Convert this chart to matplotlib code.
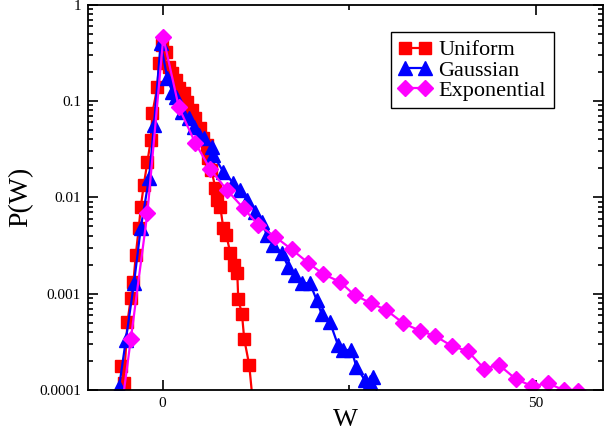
import numpy as np
import matplotlib
matplotlib.use("Agg")
import matplotlib.pyplot as plt
from matplotlib.ticker import FixedLocator, FixedFormatter, LogLocator, NullFormatter

plt.rcParams['font.family'] = 'Liberation Serif'

# Uniform (red squares)
uni_w = [-5.57, -5.2, -4.71, -4.27, -3.91, -3.6, -3.2, -2.93, -2.53, -2.04, -1.6, -1.37,
         -0.71, -0.49, -0.04, 0.4, 0.84, 1.29, 1.73, 2.13, 2.8, 3.29, 3.96, 4.4, 5.07,
         5.47, 5.96, 6.13, 6.53, 7.07, 7.33, 7.73, 8.13, 8.53, 9.07, 9.6, 10.0, 10.13,
         10.63, 10.93, 11.6, 12.2]
uni_p = [1.77e-4, 1.18e-4, 5.07e-4, 9.0e-4, 1.33e-3, 2.52e-3, 4.8e-3, 7.9e-3, 0.0134,
         0.0234, 0.039, 0.075, 0.141, 0.248, 0.38, 0.323, 0.227, 0.194, 0.165, 0.136,
         0.121, 0.0984, 0.0807, 0.0666, 0.0525, 0.0413, 0.0349, 0.0256, 0.0192, 0.0125,
         9.4e-3, 7.9e-3, 4.8e-3, 4.05e-3, 2.64e-3, 1.98e-3, 1.64e-3, 8.8e-4, 6.14e-4,
         3.38e-4, 1.82e-4, 6e-5]

# Gaussian (blue triangles)
gau_w = [-5.83, -4.93, -3.83, -2.93, -1.83, -1.16, -0.27, 0.63, 1.29, 1.73, 2.63, 3.51,
         4.17, 4.84, 5.51, 6.63, 6.8, 8.13, 9.47, 10.4, 11.29, 12.4, 13.29, 13.96, 14.84,
         15.96, 16.84, 17.73, 18.63, 19.73, 20.63, 21.29, 22.4, 23.5, 24.17, 25.3, 25.96,
         27.07, 27.73, 28.17, 28.63]
gau_p = [1.08e-4, 3.3e-4, 1.3e-3, 4.8e-3, 0.0157, 0.0563, 0.397, 0.172, 0.125, 0.111,
         0.0774, 0.066, 0.054, 0.0443, 0.041, 0.0335, 0.0275, 0.0184, 0.0141, 0.0119,
         9.4e-3, 7.1e-3, 5.58e-3, 4.06e-3, 3.2e-3, 2.64e-3, 1.9e-3, 1.56e-3, 1.28e-3,
         1.29e-3, 8.6e-4, 6.2e-4, 5.1e-4, 2.92e-4, 2.6e-4, 2.6e-4, 1.74e-4, 1.27e-4,
         1.22e-4, 1.37e-4, 8.5e-5]

# Exponential (magenta diamonds)
exp_w = [-6.4, -4.27, -2.04, 0.09, 2.17, 4.4, 6.4, 8.62, 10.84, 12.84, 15.07, 17.29,
         19.51, 21.5, 23.73, 25.73, 27.96, 29.96, 32.27, 34.49, 36.53, 38.76, 40.89,
         43.07, 45.07, 47.37, 49.5, 51.64, 53.73, 55.6]
exp_p = [1.9e-5, 3.35e-4, 6.9e-3, 0.458, 0.086, 0.0364, 0.0195, 0.0119, 7.69e-3,
         5.16e-3, 3.9e-3, 2.88e-3, 2.09e-3, 1.6e-3, 1.33e-3, 9.66e-4, 7.93e-4, 6.76e-4,
         4.92e-4, 4.12e-4, 3.63e-4, 2.86e-4, 2.53e-4, 1.67e-4, 1.82e-4, 1.29e-4, 1.1e-4,
         1.17e-4, 1.0e-4, 9.7e-5]

yticks = [1e-4, 1e-3, 1e-2, 1e-1, 1]
ylabels = ["0.0001", "0.001", "0.01", "0.1", "1"]
xticks = [0, 50]
xlabels = ["0", "50"]

fig = plt.figure(figsize=(6.08, 4.33), dpi=100)
ax = fig.add_axes([88 / 608, 1 - 390 / 433, 515 / 608, 385.3 / 433])

ax.plot(uni_w, uni_p, '-s', color='#ff0000', lw=1.6, ms=8, label='Uniform')
ax.plot(gau_w, gau_p, '-^', color='#0000ff', lw=1.6, ms=9.5, label='Gaussian')
ax.plot(exp_w, exp_p, '-D', color='#ff00ff', lw=1.6, ms=8, label='Exponential')

ax.set_yscale('log')
ax.set_xlim(-10, 59)
ax.set_ylim(1e-4, 1)

ax.yaxis.set_major_locator(FixedLocator(yticks))
ax.yaxis.set_major_formatter(FixedFormatter(ylabels))
ax.yaxis.set_minor_locator(LogLocator(base=10, subs=np.arange(2, 10)))
ax.yaxis.set_minor_formatter(NullFormatter())
ax.xaxis.set_major_locator(FixedLocator(xticks))
ax.xaxis.set_major_formatter(FixedFormatter(xlabels))
ax.xaxis.set_minor_locator(FixedLocator([25]))

ax.tick_params(which='both', direction='in', top=True, right=True, width=1.2,
               labelsize=11)
ax.tick_params(which='major', length=7, pad=5)
ax.tick_params(which='minor', length=3.5)
for s in ax.spines.values():
    s.set_linewidth(1.3)

ax.set_xlabel('W', fontsize=19, labelpad=-1)
ax.set_ylabel('P(W)', fontsize=20, labelpad=4)

leg = ax.legend(loc='upper left', bbox_to_anchor=(0.588, 0.929), fontsize=16,
                numpoints=2, handlelength=1.5, handletextpad=0.3, labelspacing=-0.02,
                borderpad=0.35, borderaxespad=0, fancybox=False, framealpha=1,
                edgecolor='black')
leg.get_frame().set_linewidth(1.0)

fig.savefig('out.png', dpi=100)
